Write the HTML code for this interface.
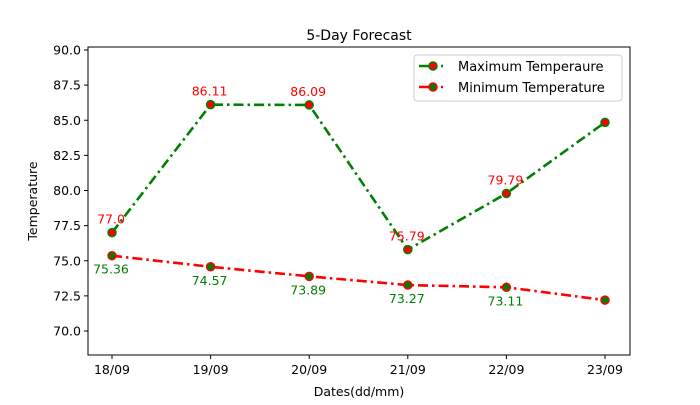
<!DOCTYPE html>
<html><head><meta charset="utf-8"><style>
body{margin:0;background:#fff;}
svg{font-family:"DejaVu Sans","Liberation Sans",sans-serif;}
</style></head><body>
<svg id="chart" width="700" height="400">
<rect x="0" y="0" width="700" height="400" fill="#fff"/>
<text x="359" y="40" font-size="14" text-anchor="middle">5-Day Forecast</text>
<g id="axes"></g>
<g id="series"></g>
<rect x="88" y="47" width="542" height="308" fill="none" stroke="#000" stroke-width="1"/>
<text x="359" y="396" font-size="12.5" text-anchor="middle">Dates(dd/mm)</text>
<text x="37" y="201" font-size="12.5" text-anchor="middle" transform="rotate(-90 37 201)">Temperature</text>
<g>
<rect x="414" y="55" width="208" height="46" fill="#fff" stroke="#ccc" rx="3"/>
<g>
<line x1="419" y1="66" x2="433" y2="66" stroke="green" stroke-width="2.5"/>
<circle cx="433" cy="66" r="4" fill="red" stroke="green" stroke-width="1.5"/>
<line x1="441" y1="66" x2="443" y2="66" stroke="green" stroke-width="2.5"/>
<text x="458" y="71" font-size="13">Maximum Temperaure</text></g>
<g>
<line x1="419" y1="87" x2="433" y2="87" stroke="red" stroke-width="2.5"/>
<circle cx="433" cy="87" r="4" fill="green" stroke="red" stroke-width="1.5"/>
<line x1="441" y1="87" x2="443" y2="87" stroke="red" stroke-width="2.5"/>
<text x="458" y="92" font-size="13">Minimum Temperature</text></g>
</g>
</svg>
<script>
const categories=["18/09","19/09","20/09","21/09","22/09","23/09"];
const maxTemps=[77.0,86.11,86.09,75.79,79.79,84.85];
const minTemps=[75.36,74.57,73.89,73.27,73.11,72.2];
const maxLabels=["77.0","86.11","86.09","75.79","79.79"];
const minLabels=["75.36","74.57","73.89","73.27","73.11"];
const yTicks=[70.0,72.5,75.0,77.5,80.0,82.5,85.0,87.5,90.0];
const NS="http://www.w3.org/2000/svg";
const xS=i=>112+i*98.6;
const yS=v=>50+(90-v)*14.05;
function mk(t,a,p){const e=document.createElementNS(NS,t);for(const k in a)e.setAttribute(k,a[k]);p.appendChild(e);return e;}
const ax=document.getElementById('axes'),se=document.getElementById('series');
yTicks.forEach(v=>{const y=yS(v);
const l=mk('line',{x1:84,x2:88,y1:y,y2:y,stroke:'#000'},ax);


const t=mk('text',{x:81,y:y+4.5,'font-size':12.5,'text-anchor':'end'},ax);t.textContent=v.toFixed(1);

});
categories.forEach((c,i)=>{const x=xS(i);
const l=mk('line',{x1:x,x2:x,y1:355,y2:359,stroke:'#000'},ax);


const t=mk('text',{x:x,y:374,'font-size':12.5,'text-anchor':'middle'},ax);t.textContent=c;

});
function series(vals,lc,fc,name){
const p=mk('polyline',{points:vals.map((v,i)=>xS(i)+','+yS(v)).join(' '),fill:'none',stroke:lc,'stroke-width':2.6,'stroke-dasharray':'10,4,2.5,4'},se);


vals.forEach((v,i)=>{const c=mk('circle',{cx:xS(i),cy:yS(v),r:4,fill:fc,stroke:lc,'stroke-width':1.5},se);

});}
series(maxTemps,'green','red','max-temp');
series(minTemps,'red','green','min-temp');
maxLabels.forEach((s,i)=>{const t=mk('text',{x:xS(i)-1,y:yS(maxTemps[i])-9,'font-size':12.5,'text-anchor':'middle',fill:'red'},se);t.textContent=s;

});
minLabels.forEach((s,i)=>{const t=mk('text',{x:xS(i)-1,y:yS(minTemps[i])+18,'font-size':12.5,'text-anchor':'middle',fill:'green'},se);t.textContent=s;

});
</script>
</body></html>
